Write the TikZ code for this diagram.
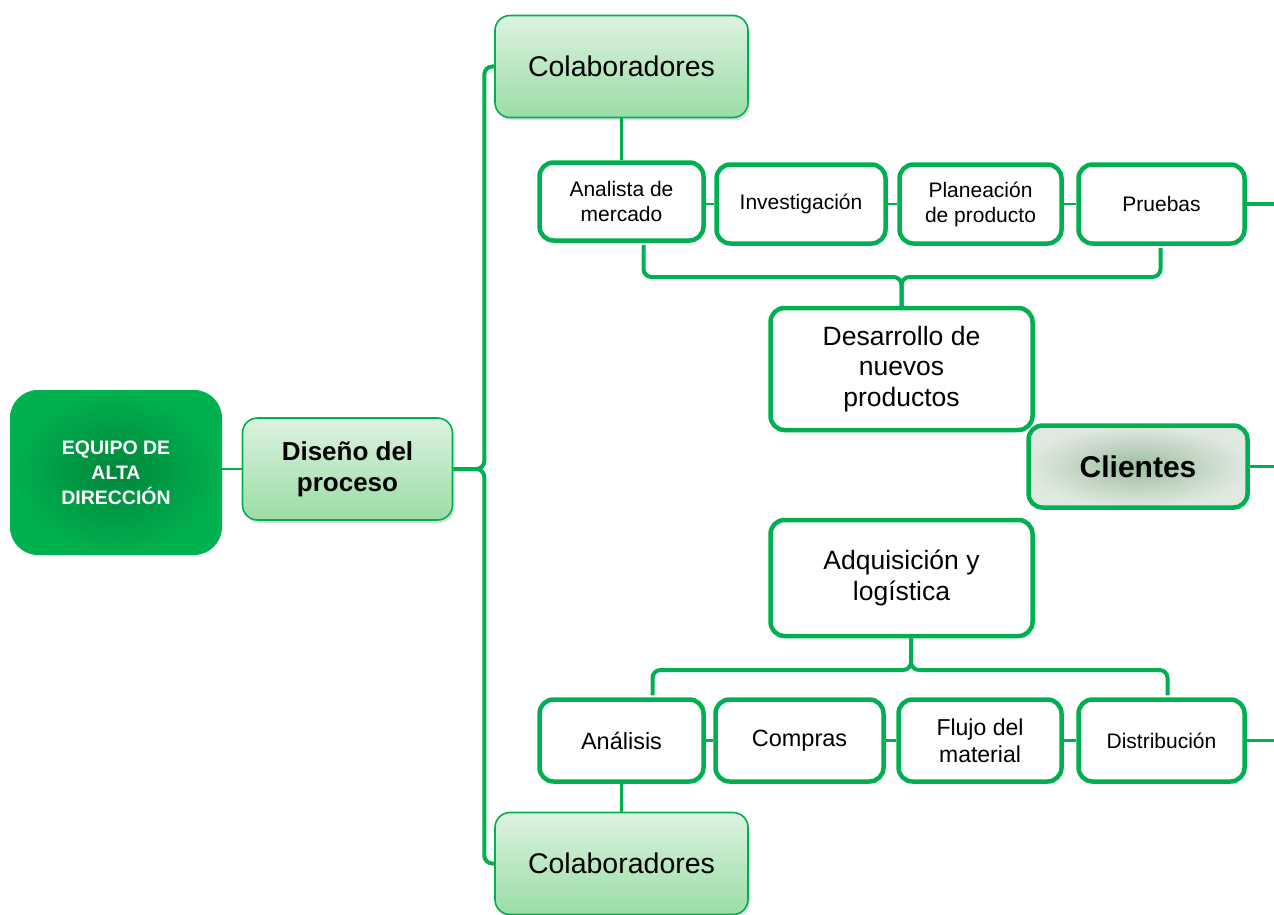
\documentclass[tikz,border=0pt]{standalone}
\usepackage{fontspec}
\setmainfont{Liberation Sans}
\usetikzlibrary{shadows,calc}
\definecolor{gr}{HTML}{00B050}
\definecolor{eqin}{HTML}{00863B}
\definecolor{eqout}{HTML}{00B14F}
\definecolor{ltop}{HTML}{DDF2E0}
\definecolor{lbot}{HTML}{9ADDA6}
\definecolor{clin}{HTML}{9DBE9F}
\definecolor{clout}{HTML}{E0E9E0}
\tikzset{
  wbox/.style={draw=gr, line width=4.5pt, fill=white, rounded corners=14pt, inner sep=0pt, align=center},
  lbox/.style={draw=gr, line width=1.6pt, top color=ltop, bottom color=lbot, rounded corners=15pt, inner sep=0pt, align=center,
     drop shadow={opacity=0.25, shadow xshift=2pt, shadow yshift=-3pt}},
  conn/.style={draw=gr, line width=2.2pt},
  brace/.style={draw=gr, line width=4pt, rounded corners=8pt},
  stub/.style={draw=gr, line width=3.5pt},
}
\begin{document}
\begin{tikzpicture}[x=1pt,y=-1pt]
\useasboundingbox (0,0) rectangle (1274,915);
% top-level
\node[rounded corners=28pt, inner color=eqin, outer color=eqout, minimum width=212pt, minimum height=165pt, inner sep=0pt, align=center, text=white, font=\bfseries\fontsize{19.5}{25}\selectfont] (eq) at (116,472.5) {EQUIPO DE\\ALTA\\DIRECCIÓN};
\node[lbox, minimum width=210pt, minimum height=102pt, font=\bfseries\fontsize{26}{31}\selectfont] (dis) at (347.5,469) {Diseño del\\proceso};
\node[lbox, minimum width=253pt, minimum height=102pt, font=\fontsize{28.5}{33}\selectfont] (colT) at (621.5,66.5) {Colaboradores};
\node[lbox, minimum width=253pt, minimum height=102pt, font=\fontsize{28.5}{33}\selectfont] (colB) at (621.5,863.5) {Colaboradores};
% top row
\node[wbox, minimum width=164pt, minimum height=78pt, font=\fontsize{21}{25}\selectfont] (an) at (621.5,201.5) {Analista de\\mercado};
\node[wbox, minimum width=169pt, minimum height=79pt, font=\fontsize{21}{25}\selectfont] (inv) at (801,204) {Investigación};
\node[wbox, minimum width=162pt, minimum height=79pt, font=\fontsize{21}{25}\selectfont] (pl) at (980.5,204) {Planeación\\de producto};
\node[wbox, minimum width=166pt, minimum height=79pt, font=\fontsize{21}{25}\selectfont] (pr) at (1161.5,204) {Pruebas};
% middle
\node[wbox, minimum width=262pt, minimum height=122pt, font=\fontsize{26.5}{30.5}\selectfont] (dev) at (901.5,369) {Desarrollo de\\nuevos\\productos};
\node[draw=gr, line width=4.5pt, rounded corners=14pt, inner color=clin, outer color=clout, minimum width=219pt, minimum height=82pt, inner sep=0pt, font=\bfseries\fontsize{30}{34}\selectfont] (cli) at (1138,466.5) {Clientes};
\node[wbox, minimum width=262pt, minimum height=116pt, font=\fontsize{26.5}{30.5}\selectfont] (adq) at (901.5,578) {Adquisición y\\logística};
% bottom row
\node[wbox, minimum width=164pt, minimum height=82pt, font=\fontsize{23.5}{27}\selectfont] (ana) at (621.5,740.5) {Análisis};
\node[wbox, minimum width=168pt, minimum height=82pt, font=\fontsize{23.5}{27}\selectfont] (com) at (799.5,740.5) {\raisebox{-3pt}{Compras}};
\node[wbox, minimum width=163pt, minimum height=82pt, font=\fontsize{23}{27}\selectfont] (flu) at (980,740.5) {Flujo del\\material};
\node[wbox, minimum width=166pt, minimum height=82pt, font=\fontsize{21}{25}\selectfont] (dst) at (1161.5,740.5) {Distribución};
% right edge coordinates
\coordinate (r1) at (1274,204);
\coordinate (r2) at (1274,466.5);
\coordinate (r3) at (1274,740.5);
\coordinate (jm) at ($(dis.east)+(31,0)$);
\coordinate (jt) at (dev.north |- 0,277);
\coordinate (bt) at ($(adq.south)+(9.5,0)$);
\coordinate (jb) at (bt |- 0,670);
% connectors
\draw[conn] (eq.east |- dis.west) -- (dis.west);
\draw[brace] (colT.west) -| (jm) -- (dis.east);
\draw[brace] (colB.west) -| (jm) -- (dis.east);
\draw[conn] (colT.south) -- (an.north);
\draw[conn] (colB.north) -- (ana.south);
\draw[conn] (an.east |- inv.west) -- (inv.west);
\draw[conn] (inv.east) -- (pl.west);
\draw[conn] (pl.east) -- (pr.west);
\draw[conn] (ana.east) -- (com.west);
\draw[conn] (com.east) -- (flu.west);
\draw[conn] (flu.east) -- (dst.west);
\draw[stub] (pr.east) -- (r1);
\draw[stub] (cli.east) -- (r2);
\draw[stub] (dst.east) -- (r3);
\draw[brace] ($(an.south)+(22,2)$) |- (jt) -- (dev.north);
\draw[brace] ($(pr.south)+(-1,2)$) |- (jt) -- (dev.north);
\draw[brace] ($(ana.north)+(31,-2)$) |- (jb) -- (bt);
\draw[brace] ($(dst.north)+(6,-2)$) |- (jb) -- (bt);
\end{tikzpicture}
\end{document}
